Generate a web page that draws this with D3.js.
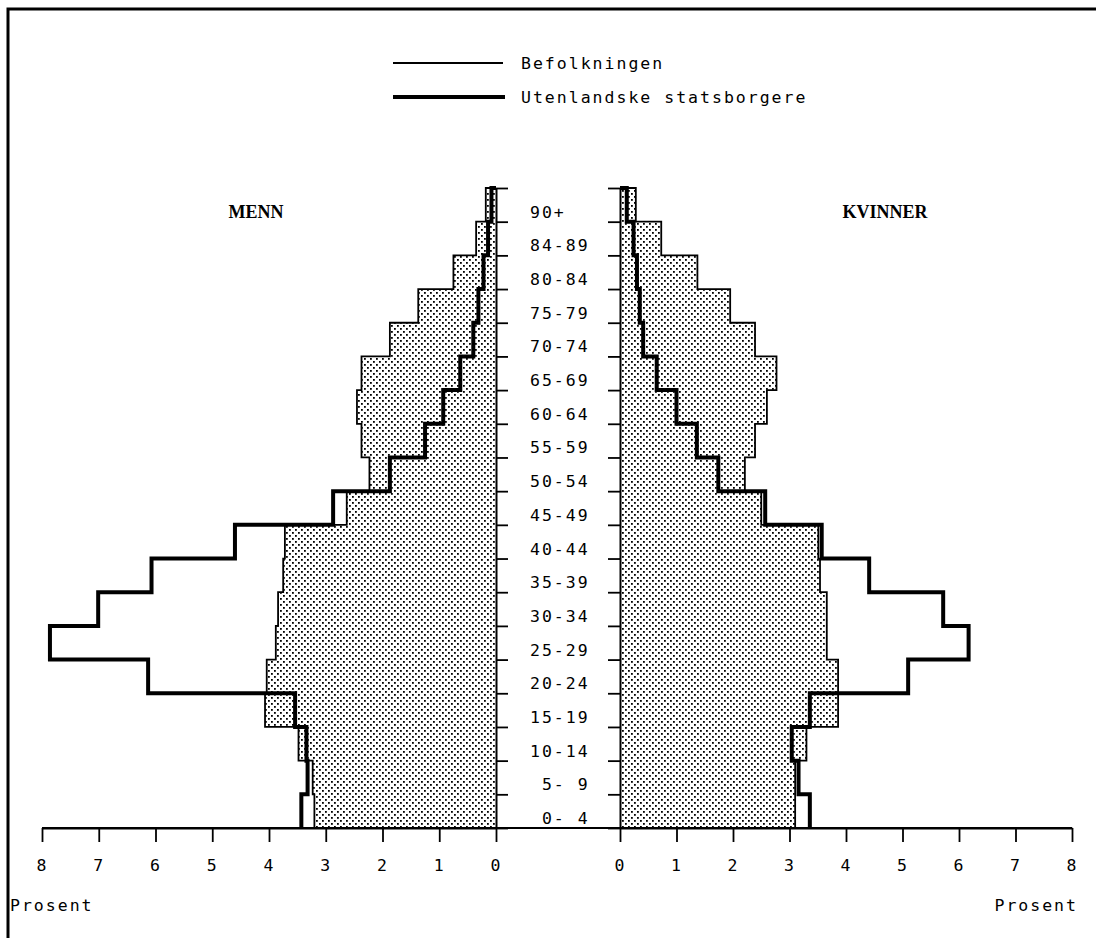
<!DOCTYPE html>
<html>
<head>
<meta charset="utf-8">
<script src="https://cdn.jsdelivr.net/npm/d3@7"></script>
<style>
  html, body { margin: 0; background: #fff; overflow: hidden; }
  svg { display: block; }
  .mono { font-family: "DejaVu Sans Mono", monospace; font-size: 16.5px; letter-spacing: 2px; fill: #000; }
  .side { font-family: "Liberation Serif", serif; font-weight: bold; font-size: 18px; fill: #000; }
</style>
</head>
<body>
<div id="chart"></div>
<script>
// age groups, bottom to top (the printed "84-89" kept as in the original)
const ages = ["0- 4", "5- 9", "10-14", "15-19", "20-24", "25-29", "30-34", "35-39", "40-44",
  "45-49", "50-54", "55-59", "60-64", "65-69", "70-74", "75-79", "80-84", "84-89", "90+"];

// percent, men
const menPop = [3.20, 3.23, 3.48, 4.07, 4.04, 3.88, 3.84, 3.75, 3.72, 2.63, 2.23, 2.37, 2.45, 2.37, 1.87, 1.37, 0.75, 0.35, 0.18];
const menForeign = [3.43, 3.32, 3.34, 3.54, 6.13, 7.86, 7.01, 6.07, 4.60, 2.87, 1.87, 1.25, 0.93, 0.63, 0.40, 0.31, 0.22, 0.14, 0.08];

// percent, women
const womenPop = [3.10, 3.10, 3.30, 3.86, 3.86, 3.66, 3.66, 3.54, 3.51, 2.50, 2.21, 2.39, 2.60, 2.77, 2.39, 1.95, 1.37, 0.73, 0.28];
const womenForeign = [3.36, 3.16, 3.04, 3.36, 5.10, 6.17, 5.72, 4.41, 3.57, 2.57, 1.74, 1.36, 1.00, 0.65, 0.41, 0.35, 0.30, 0.24, 0.12];

const ticks = [0, 1, 2, 3, 4, 5, 6, 7, 8];

const width = 1096, height = 938;

const svg = d3.select("#chart").append("svg")
    .attr("width", width)
    .attr("height", height);

// dotted fill
const pat = svg.append("defs").append("pattern")
    .attr("id", "dots")
    .attr("patternUnits", "userSpaceOnUse")
    .attr("width", 6)
    .attr("height", 6);
pat.append("rect").attr("x", 1).attr("y", 1).attr("width", 1.8).attr("height", 1.8).attr("fill", "#000");
pat.append("rect").attr("x", 4).attr("y", 4).attr("width", 1.8).attr("height", 1.8).attr("fill", "#000");

// frame
svg.append("rect")
    .attr("x", 8).attr("y", 9)
    .attr("width", 1110).attr("height", 950)
    .attr("fill", "none")
    .attr("stroke", "#000")
    .attr("stroke-width", 3);

let y = d3.scaleLinear().domain([0, ages.length]).range([828, 188]);
let xMen = d3.scaleLinear().domain([0, 8]).range([496, 42]);
let xWomen = d3.scaleLinear().domain([0, 8]).range([620, 1072]);

// step points: each group gives a vertical segment from its lower to upper edge
function steps(vals) {
  let pts = [];
  vals.forEach((v, i) => {
    pts.push({ v: v, p: i });
    pts.push({ v: v, p: i + 1 });
  });
  return pts;
}

function drawSide(x, pop, foreign) {
  const pts = steps(pop);
  svg.append("path")
      .attr("d", d3.area().x0(x(0)).x1(d => x(d.v)).y(d => y(d.p))(pts))
      .attr("fill", "url(#dots)");

  const outline = [{ v: 0, p: 0 }].concat(pts, [{ v: 0, p: ages.length }]);
  svg.append("path")
      .attr("d", d3.line().x(d => x(d.v)).y(d => y(d.p))(outline))
      .attr("fill", "none")
      .attr("stroke", "#000")
      .attr("stroke-width", 1.8);

  const fpts = [{ v: foreign[0], p: 0 }].concat(steps(foreign), [{ v: 0, p: ages.length }]);
  svg.append("path")
      .attr("d", d3.line().x(d => x(d.v)).y(d => y(d.p))(fpts))
      .attr("fill", "none")
      .attr("stroke", "#000")
      .attr("stroke-width", 4)
      .attr("stroke-linejoin", "miter");
}

drawSide(xMen, menPop, menForeign);
drawSide(xWomen, womenPop, womenForeign);

// centre axes with band ticks
svg.append("g")
    .attr("class", "y-axis")
    .attr("transform", `translate(${xMen(0)},0)`)
    .call(d3.axisRight(y).ticks(ages.length).tickSize(12).tickSizeOuter(0).tickFormat(""));
svg.append("g")
    .attr("class", "y-axis")
    .attr("transform", `translate(${xWomen(0)},0)`)
    .call(d3.axisLeft(y).ticks(ages.length).tickSize(12).tickSizeOuter(0).tickFormat(""));

// bottom axes
svg.append("g")
    .attr("class", "x-axis")
    .attr("transform", `translate(0,${y(0)})`)
    .call(d3.axisBottom(xMen).tickValues(ticks).tickSize(14).tickSizeOuter(0).tickPadding(12));
svg.append("g")
    .attr("class", "x-axis")
    .attr("transform", `translate(0,${y(0)})`)
    .call(d3.axisBottom(xWomen).tickValues(ticks).tickSize(14).tickSizeOuter(0).tickPadding(12));

svg.append("line")
    .attr("x1", xMen(8)).attr("x2", xWomen(8))
    .attr("y1", y(0)).attr("y2", y(0))
    .attr("stroke", "#000")
    .attr("stroke-width", 2);

svg.selectAll(".x-axis .domain, .y-axis .domain")
    .attr("stroke", "#000")
    .attr("stroke-width", 2);
svg.selectAll(".x-axis .tick line, .y-axis .tick line")
    .attr("stroke", "#000")
    .attr("stroke-width", 1.8);
svg.selectAll(".x-axis .tick text")
    .attr("class", "mono")
    .attr("dy", "0.32em")
    .attr("y", 38);

// age labels
svg.append("g")
    .selectAll("text")
    .data(ages)
    .join("text")
    .attr("class", "mono")
    .attr("x", 530)
    .attr("y", (d, i) => y(i) - 4)
    .style("white-space", "pre")
    .text(d => d.length === 4 && d !== "90+" ? " " + d : d);

// side titles
svg.append("text").attr("class", "side").attr("x", 256).attr("y", 218)
    .attr("text-anchor", "middle").text("MENN");
svg.append("text").attr("class", "side").attr("x", 885).attr("y", 218)
    .attr("text-anchor", "middle").text("KVINNER");

// unit labels
svg.append("text").attr("class", "mono").attr("x", 10).attr("y", 911).text("Prosent");
svg.append("text").attr("class", "mono").attr("x", 1078).attr("y", 911)
    .attr("text-anchor", "end").text("Prosent");

// legend
const legend = svg.append("g").attr("class", "legend");
legend.append("line").attr("x1", 393).attr("x2", 503).attr("y1", 63).attr("y2", 63)
    .attr("stroke", "#000").attr("stroke-width", 1.8);
legend.append("text").attr("class", "mono").attr("x", 521).attr("y", 69).text("Befolkningen");
legend.append("line").attr("x1", 393).attr("x2", 505).attr("y1", 97).attr("y2", 97)
    .attr("stroke", "#000").attr("stroke-width", 4);
legend.append("text").attr("class", "mono").attr("x", 521).attr("y", 103).text("Utenlandske statsborgere");
</script>
</body>
</html>
